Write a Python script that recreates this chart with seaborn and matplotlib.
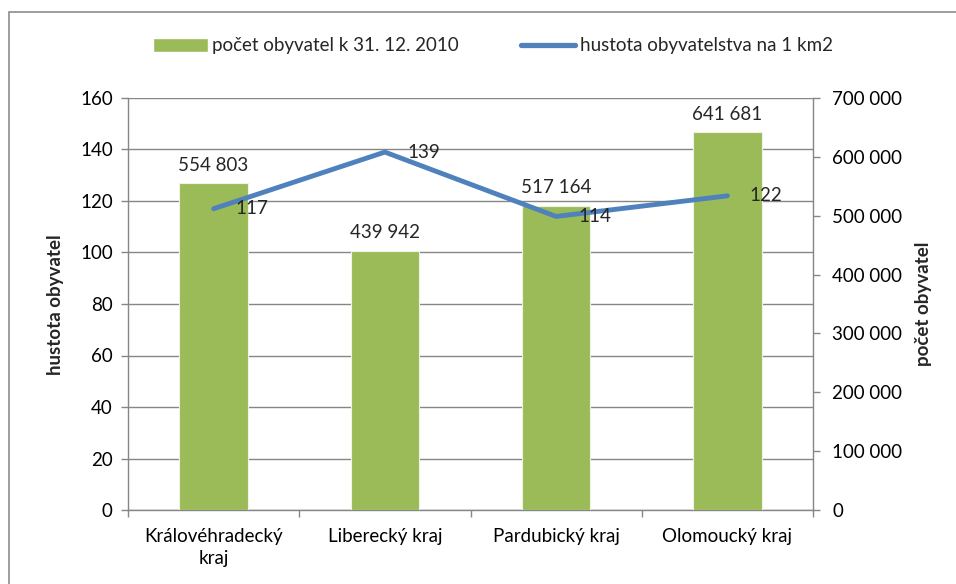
import matplotlib
matplotlib.use("Agg")
import matplotlib.pyplot as plt
import seaborn as sns
import pandas as pd
from matplotlib.patches import Patch, Rectangle
from matplotlib.lines import Line2D
from matplotlib.ticker import FuncFormatter

# data
kraje = ["Královéhradecký\nkraj", "Liberecký kraj", "Pardubický kraj", "Olomoucký kraj"]
pocet = [554803, 439942, 517164, 641681]
hustota = [117, 139, 114, 122]

GREEN = "#9BBB59"
BLUE = "#4F81BD"
GRAY = "#868686"
FS = 13.5


def mezery(v):
    return f"{v:,.0f}".replace(",", " ")


sns.set_theme(style="white")
plt.rcParams["font.family"] = ["Lato", "DejaVu Sans"]

df = pd.DataFrame({"kraj": kraje, "pocet": pocet, "hustota": hustota})

fig = plt.figure(figsize=(9.56, 5.84), dpi=100)
ax = fig.add_axes([128 / 956, 74 / 584, 685 / 956, 412 / 584])
ax2 = ax.twinx()   # bars (right axis)
ax3 = ax.twinx()   # line (left scale)

# bars - population
sns.barplot(data=df, x="kraj", y="pocet", ax=ax2, color=GREEN, width=0.4,
            saturation=1, edgecolor="#eef3e2", linewidth=0.8)
ax2.bar_label(ax2.containers[0], labels=[mezery(v) for v in pocet],
              padding=7, fontsize=FS)
ax2.set_ylim(0, 700000)
ax2.set_yticks(range(0, 700001, 100000))
ax2.yaxis.set_major_formatter(FuncFormatter(lambda v, p: mezery(v)))
ax2.set_xlabel("")
ax2.set_ylabel("")

# line - density
sns.lineplot(x=df.index, y=df["hustota"], ax=ax3, color=BLUE, linewidth=3.5,
             sort=False, solid_capstyle="round")
for i, v in enumerate(hustota):
    ax3.annotate(str(v), (i, v), xytext=(16, 0), textcoords="offset points",
                 ha="left", va="center", fontsize=FS)
ax3.set_ylim(0, 160)
ax3.axis("off")

# left axis
ax.set_ylim(0, 160)
ax.set_yticks(range(0, 161, 20))
ax.yaxis.grid(True, color=GRAY, linewidth=1)
ax.set_axisbelow(True)
ax.set_xticks(range(len(kraje)))
ax.set_xticklabels(kraje, linespacing=1.35)
ax.set_xticks([-0.5, 0.5, 1.5, 2.5, 3.5], minor=True)
ax.set_xlim(-0.5, 3.5)

ax.tick_params(axis="y", direction="out", left=True, length=5, width=1,
               color=GRAY, labelsize=FS, pad=6, labelcolor="black")
ax.tick_params(axis="x", which="major", length=0, pad=13, labelsize=FS,
               labelcolor="black")
ax.tick_params(axis="x", which="minor", bottom=True, direction="out",
               length=5, width=1, color=GRAY)
ax2.tick_params(axis="y", direction="out", right=True, length=5, width=1,
                color=GRAY, labelsize=FS, pad=9, labelcolor="black")

for s in ["left", "bottom"]:
    ax.spines[s].set_color(GRAY)
    ax.spines[s].set_linewidth(1)
ax.spines["top"].set_visible(False)
ax.spines["right"].set_visible(False)
for s in ["left", "bottom", "top"]:
    ax2.spines[s].set_visible(False)
ax2.spines["right"].set_color(GRAY)
ax2.spines["right"].set_linewidth(1)

fig.text(56 / 956, 1 - 305 / 584, "hustota obyvatel", rotation=90,
         ha="center", va="center", fontweight="bold", fontsize=FS)
fig.text(924 / 956, 1 - 304 / 584, "počet obyvatel", rotation=90,
         ha="center", va="center", fontweight="bold", fontsize=FS)

handles = [Patch(facecolor=GREEN), Line2D([], [], color=BLUE, linewidth=3.8)]
fig.legend(handles, ["počet obyvatel k 31. 12. 2010", "hustota obyvatelstva na 1 km2"],
           loc="center", bbox_to_anchor=(493 / 956, 1 - 46 / 584), ncol=2,
           frameon=False, handlelength=2.9, handletextpad=0.25,
           columnspacing=3.3, fontsize=FS, handleheight=0.7)

# outer chart border
fig.patches.append(Rectangle((9 / 956, -0.1), 1.2, 1.1 - 12 / 584,
                             transform=fig.transFigure, fill=False,
                             edgecolor="#8c8c8c", linewidth=1.2))

fig.savefig("out.png", dpi=100)
